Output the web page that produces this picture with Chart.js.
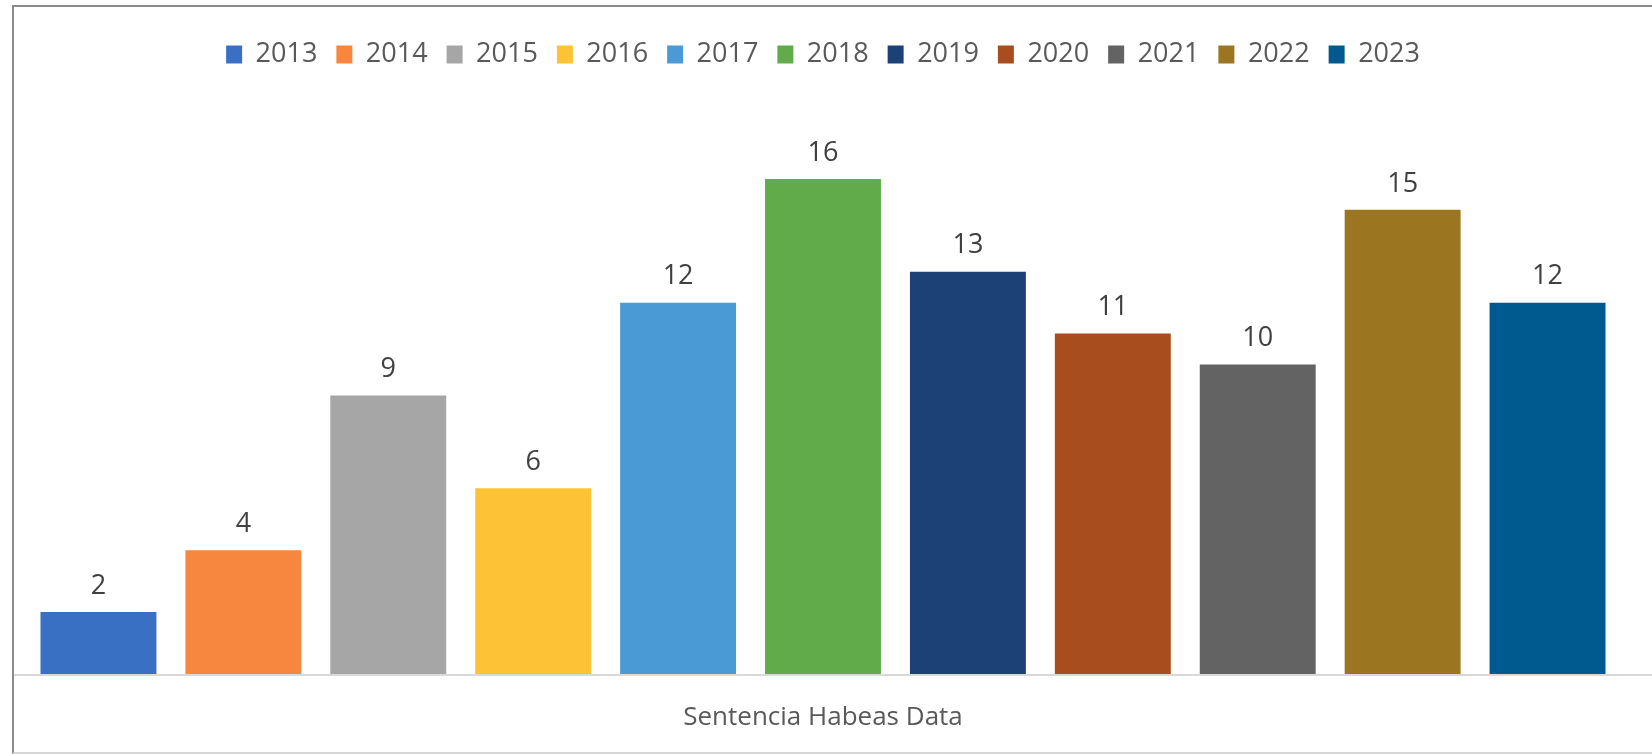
<!DOCTYPE html>
<html>
<head>
<meta charset="utf-8">
<script src="https://cdn.jsdelivr.net/npm/chart.js@4.4.1/dist/chart.umd.min.js"></script>
<style>
  html, body { margin: 0; padding: 0; background: #fff; overflow: hidden; }
  #frame {
    position: absolute; left: 12px; top: 5px;
    width: 1640px; height: 745px;
    border-left: 2px solid #8a8a8a;
    border-top: 2px solid #8a8a8a;
    border-bottom: 2px solid #d6d6d6;
  }
</style>
</head>
<body>
<div id="frame"><canvas id="grafica"></canvas></div>
<script>
const categorias = ['Sentencia Habeas Data'];
const anios = ['2013', '2014', '2015', '2016', '2017', '2018', '2019', '2020', '2021', '2022', '2023'];
const sentencias = [2, 4, 9, 6, 12, 16, 13, 11, 10, 15, 12];
const colores = ['#3a70c4', '#f7873f', '#a6a6a6', '#fec236', '#4a9bd5', '#62ab4b',
                 '#1b4177', '#a84d1e', '#636363', '#9c7520', '#005a8f'];

const fuente = "'Open Sans', 'DejaVu Sans', sans-serif";

// etiquetas de valor encima de cada barra
const etiquetas = {
  id: 'etiquetas',
  afterDatasetsDraw(chart) {
    const ctx = chart.ctx;
    ctx.save();
    ctx.font = '27px ' + fuente;
    ctx.fillStyle = '#404040';
    ctx.textAlign = 'center';
    ctx.textBaseline = 'middle';
    chart.data.datasets.forEach((ds, i) => {
      chart.getDatasetMeta(i).data.forEach((bar, j) => {
        ctx.fillText(ds.data[j], bar.x, bar.y - 26);
      });
    });
    ctx.restore();
  }
};

// linea del eje horizontal a todo el ancho
const ejeLinea = {
  id: 'ejeLinea',
  afterDatasetsDraw(chart) {
    const ctx = chart.ctx;
    const y = chart.scales.y.getPixelForValue(0);
    ctx.save();
    ctx.strokeStyle = '#d9d9d9';
    ctx.lineWidth = 2;
    ctx.beginPath();
    ctx.moveTo(0, y + 1);
    ctx.lineTo(chart.width, y + 1);
    ctx.stroke();
    ctx.restore();
  }
};

// mas espacio bajo la leyenda
const espacioLeyenda = {
  id: 'espacioLeyenda',
  beforeInit(chart) {
    const fit = chart.legend.fit;
    chart.legend.fit = function () {
      fit.bind(chart.legend)();
      this.height += 39;
    };
  }
};

const ctx = document.getElementById('grafica');

new Chart(ctx, {
  type: 'bar',
  data: {
    labels: categorias,
    datasets: anios.map((a, i) => ({
      label: a,
      data: [sentencias[i]],
      backgroundColor: colores[i],
      borderWidth: 0,
      barPercentage: 0.8,
      categoryPercentage: 1.0
    }))
  },
  options: {
    responsive: true,
    maintainAspectRatio: false,
    animation: false,
    layout: {
      padding: { top: 15, left: 12, right: 34, bottom: 0 }
    },
    plugins: {
      legend: {
        position: 'top',
        labels: {
          boxWidth: 16,
          boxHeight: 18,
          padding: 19,
          color: '#595959',
          font: { family: fuente, size: 27 }
        }
      },
      tooltip: { enabled: false }
    },
    scales: {
      x: {
        grid: { display: false },
        border: { display: false },
        ticks: {
          color: '#595959',
          padding: 20,
          font: { family: fuente, size: 26 }
        },
        afterFit(scale) {
          scale.height = 78;
        }
      },
      y: {
        display: false,
        min: 0,
        max: 18
      }
    }
  },
  plugins: [etiquetas, ejeLinea, espacioLeyenda]
});
</script>
</body>
</html>
